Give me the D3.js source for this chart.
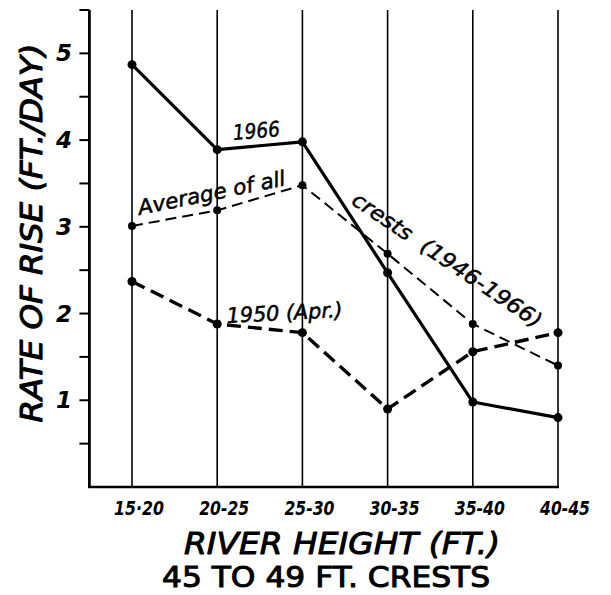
<!DOCTYPE html>
<html><head><meta charset="utf-8">
<script src="https://cdn.jsdelivr.net/npm/d3@7"></script>
<style>body{margin:0;background:#fff}svg{display:block}text{white-space:pre}</style>
</head><body>
<script>
const categories = ["15·20","20-25","25-30","30-35","35-40","40-45"];
const s1966 = [4.87,3.89,3.98,2.47,0.98,0.80];
const sAverage = [3.01,3.19,3.48,2.69,1.88,1.40];
const s1950 = [2.37,1.88,1.78,0.90,1.56,1.78];
const yMajor = [1,2,3,4,5];
const yMinor = [0.5,1.5,2.5,3.5,4.5,5.5];

const W = 611, H = 595;
const svg = d3.select("body").append("svg").attr("width", W).attr("height", H);
svg.append("rect").attr("width", W).attr("height", H).attr("fill", "#fff");

const x = d3.scalePoint().domain(categories).range([132, 558]);
const y = d3.scaleLinear().domain([0, 5.5]).range([487, 10]);
const step = x.step();
const x0 = x(categories[0]) - step / 2;
const FONT = "'DejaVu Sans', sans-serif";

// vertical category lines
svg.append("g").selectAll("line").data(categories).join("line")
  .attr("x1", d => x(d)).attr("x2", d => x(d))
  .attr("y1", y(0)).attr("y2", y(5.5))
  .attr("stroke", "#000").attr("stroke-width", 1.6);

// axes lines
svg.append("line").attr("x1", x0).attr("x2", x0).attr("y1", y(0) + 1).attr("y2", y(5.5))
  .attr("stroke", "#000").attr("stroke-width", 2.8);
svg.append("line").attr("x1", x0 - 1).attr("x2", x(categories[5]) + 1).attr("y1", y(0)).attr("y2", y(0))
  .attr("stroke", "#000").attr("stroke-width", 2.6);

// y ticks
svg.append("g").selectAll("line").data(yMajor.concat(yMinor)).join("line")
  .attr("x1", x0 - 10).attr("x2", x0).attr("y1", d => y(d)).attr("y2", d => y(d))
  .attr("stroke", "#000").attr("stroke-width", 2);

svg.append("g").selectAll("text").data(yMajor).join("text")
  .attr("x", 64).attr("y", d => y(d) + 8)
  .attr("text-anchor", "middle")
  .attr("font-family", FONT).attr("font-style", "italic").attr("font-weight", "bold")
  .attr("font-size", 23).text(d => d);

// x tick labels
svg.append("g").selectAll("text").data(categories).join("text")
  .attr("x", d => x(d) + 7).attr("y", 515)
  .attr("text-anchor", "middle")
  .attr("font-family", FONT).attr("font-style", "italic").attr("font-weight", "bold")
  .attr("font-size", 20).attr("textLength", 50).attr("lengthAdjust", "spacingAndGlyphs")
  .text(d => d);

// axis titles
function title(txt, tr, len, size, italic) {
  svg.append("text").attr("transform", tr).attr("text-anchor", "middle")
    .attr("font-family", FONT).attr("font-style", italic ? "italic" : "normal").attr("font-size", size)
    .attr("stroke", "#000").attr("stroke-width", 1).attr("stroke-linejoin", "round")
    .attr("textLength", len).attr("lengthAdjust", "spacingAndGlyphs")
    .text(txt);
}
title("RIVER HEIGHT (FT.)", "translate(342,554)", 316, 31, true);
title("45 TO 49 FT. CRESTS", "translate(326,587)", 328, 28, false);
title("RATE OF RISE (FT./DAY)", "translate(42,233) rotate(-90)", 379, 30, true);

// series
const line = d3.line().x((d, i) => x(categories[i])).y(d => y(d));
function series(vals, width, dash, r) {
  svg.append("path").datum(vals).attr("d", line)
    .attr("fill", "none").attr("stroke", "#000").attr("stroke-width", width)
    .attr("stroke-dasharray", dash).attr("stroke-linejoin", "round");
  svg.append("g").selectAll("circle").data(vals).join("circle")
    .attr("cx", (d, i) => x(categories[i])).attr("cy", d => y(d)).attr("r", r).attr("fill", "#000");
}
series(sAverage, 2, "11,6", 4);
series(s1950, 3.4, "14,7", 4.5);
series(s1966, 3.2, null, 4.5);

// annotations
function note(txt, cx, cy, rot, len, size) {
  svg.append("text").attr("transform", `translate(${cx},${cy}) rotate(${rot})`)
    .attr("text-anchor", "middle")
    .attr("font-family", FONT).attr("font-style", "italic").attr("font-size", size)
    .attr("stroke", "#000").attr("stroke-width", 0.5)
    .attr("textLength", len).attr("lengthAdjust", "spacingAndGlyphs").text(txt);
}
note("1966", 257, 138, -5, 47, 21);
note("Average of all", 213, 200, -11.5, 150, 21);
note("crests  (1946-1966)", 443, 266, 34, 224, 21);
note("1950 (Apr.)", 285, 320, -3, 116, 21);
</script>
</body></html>
